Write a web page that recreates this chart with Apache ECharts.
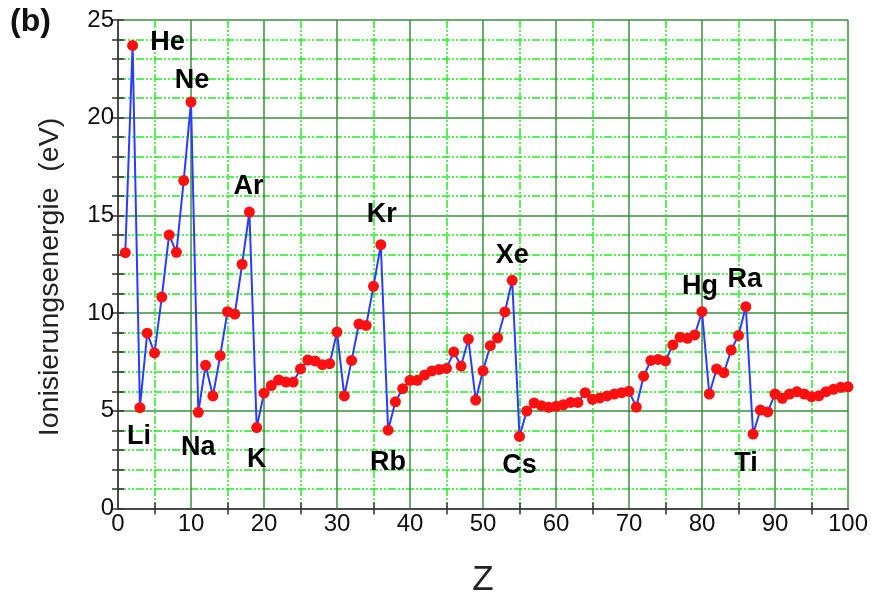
<!DOCTYPE html>
<html>
<head>
<meta charset="utf-8">
<script src="https://cdn.jsdelivr.net/npm/echarts@6/dist/echarts.min.js"></script>
<style>
html,body{margin:0;padding:0;background:#fff;}
#chart{width:872px;height:593px;}
</style>
</head>
<body>
<div id="chart"></div>
<script>
// Atomic number Z
var zValues = [1,2,3,4,5,6,7,8,9,10,11,12,13,14,15,16,17,18,19,20,
  21,22,23,24,25,26,27,28,29,30,31,32,33,34,35,36,37,38,39,40,
  41,42,43,44,45,46,47,48,49,50,51,52,53,54,55,56,57,58,59,60,
  61,62,63,64,65,66,67,68,69,70,71,72,73,74,75,76,77,78,79,80,
  81,82,83,84,85,86,87,88,89,90,91,92,93,94,95,96,97,98,99,100];
// Ionisierungsenergie (eV)
var energies = [13.09,23.70,5.16,8.97,7.96,10.82,14.00,13.11,16.78,20.80,
  4.92,7.33,5.76,7.82,10.07,9.95,12.50,15.17,4.14,5.90,
  6.29,6.58,6.47,6.47,7.14,7.60,7.55,7.36,7.41,9.03,
  5.76,7.58,9.44,9.37,11.37,13.50,4.01,5.46,6.13,6.56,
  6.56,6.83,7.04,7.12,7.17,8.01,7.29,8.67,5.55,7.05,
  8.33,8.73,10.06,11.68,3.69,4.99,5.40,5.26,5.18,5.23,
  5.31,5.43,5.43,5.93,5.59,5.66,5.76,5.86,5.93,6.00,
  5.19,6.77,7.58,7.63,7.55,8.37,8.77,8.71,8.88,10.07,
  5.86,7.14,6.95,8.11,8.86,10.33,3.81,5.04,4.94,5.86,
  5.64,5.86,5.98,5.86,5.72,5.77,5.98,6.10,6.20,6.23];
// Element labels
var labelZ = [2,10,18,36,54,80,86,3,11,19,37,55,87];
var labelText = ['He','Ne','Ar','Kr','Xe','Hg','Ra','Li','Na','K','Rb','Cs','Ti'];
var xTicks = [0,10,20,30,40,50,60,70,80,90,100];
var yTicks = [0,5,10,15,20,25];

// label offsets (style only)
var labelOffsets = {
  2:[35,-3], 10:[1,-22], 18:[-1,-26], 36:[1,-30], 54:[0,-25], 80:[-2,-25], 86:[-1,-27],
  3:[-1,29], 11:[0,35], 19:[0,32], 37:[0,32], 55:[0,29], 87:[-7,29]
};

var seriesData = zValues.map(function(z, i){
  var item = {value:[z, energies[i]]};
  var k = labelZ.indexOf(z);
  if (k >= 0) {
    item.label = {
      show:true, formatter: labelText[k], position:'inside',
      offset: labelOffsets[z], align:'center', verticalAlign:'middle',
      color:'#000', fontSize:27, fontWeight:'bold', fontFamily:'Liberation Sans'
    };
  }
  return item;
});

var font = 'Liberation Sans';
var majorLine = {show:true, lineStyle:{color:'#3a8f3a', width:1.5, type:'solid'}};
var minorLine = {show:true, lineStyle:{color:'#22ee22', width:1.5, type:[8,2,2,2,2,2]}};
var axisLineStyle = {show:true, lineStyle:{color:'#4a4a4a', width:2}};

var chart = echarts.init(document.getElementById('chart'), null, {renderer:'canvas'});
chart.setOption({
  animation:false,
  backgroundColor:'#fff',
  grid:{left:118, right:24, top:20, bottom:84.5, containLabel:false, outerBoundsMode:'none'},
  xAxis:[{
    type:'value', min:xTicks[0], max:xTicks[xTicks.length-1], interval:10,
    position:'bottom',
    axisLine:axisLineStyle,
    axisTick:{show:false},
    minorTick:{show:true, splitNumber:2, length:6, lineStyle:{color:'#333', width:1.5}},
    splitLine:majorLine,
    minorSplitLine:minorLine,
    axisLabel:{color:'#111', fontSize:24, fontFamily:font, margin:4},
    name:'Z', nameLocation:'middle', nameGap:54,
    nameTextStyle:{color:'#222', fontSize:35, fontFamily:font}
  },{
    type:'value', min:0, max:100, interval:10, position:'top',
    axisLine:axisLineStyle, axisTick:{show:false},
    minorTick:{show:true, splitNumber:2, length:6, lineStyle:{color:'#333', width:1.5}},
    axisLabel:{show:false}, splitLine:{show:false}
  }],
  yAxis:[{
    type:'value', min:yTicks[0], max:yTicks[yTicks.length-1], interval:5,
    position:'left',
    axisLine:axisLineStyle,
    axisTick:{show:true, inside:true, length:6, lineStyle:{color:'#333', width:1.5}},
    minorTick:{show:true, splitNumber:5, length:6, lineStyle:{color:'#333', width:1.5}},
    splitLine:majorLine,
    minorSplitLine:minorLine,
    axisLabel:{color:'#111', fontSize:24, fontFamily:font, margin:4}
  },{
    type:'value', min:0, max:25, interval:5, position:'right',
    axisLine:axisLineStyle,
    axisTick:{show:true, inside:true, length:6, lineStyle:{color:'#333', width:1.5}},
    minorTick:{show:true, splitNumber:5, length:6, lineStyle:{color:'#333', width:1.5}},
    axisLabel:{show:false}, splitLine:{show:false}
  }],
  graphic:[
    {type:'text', left:10, top:6, style:{text:'(b)', fontSize:32, fontWeight:'bold', fontFamily:font, fill:'#111'}},
    {type:'text', x:50, y:277, rotation:Math.PI/2,
      style:{text:'Ionisierungsenergie  (eV)', fontSize:28.5, fontFamily:font, fill:'#222', align:'center', verticalAlign:'middle'}}
  ],
  series:[{
    type:'line', xAxisIndex:0, yAxisIndex:0,
    data:seriesData,
    symbol:'circle', symbolSize:11,
    itemStyle:{color:'#ff1010', borderWidth:0},
    lineStyle:{color:'#2a3cff', width:2},
    z:5
  }]
});
</script>
</body>
</html>
